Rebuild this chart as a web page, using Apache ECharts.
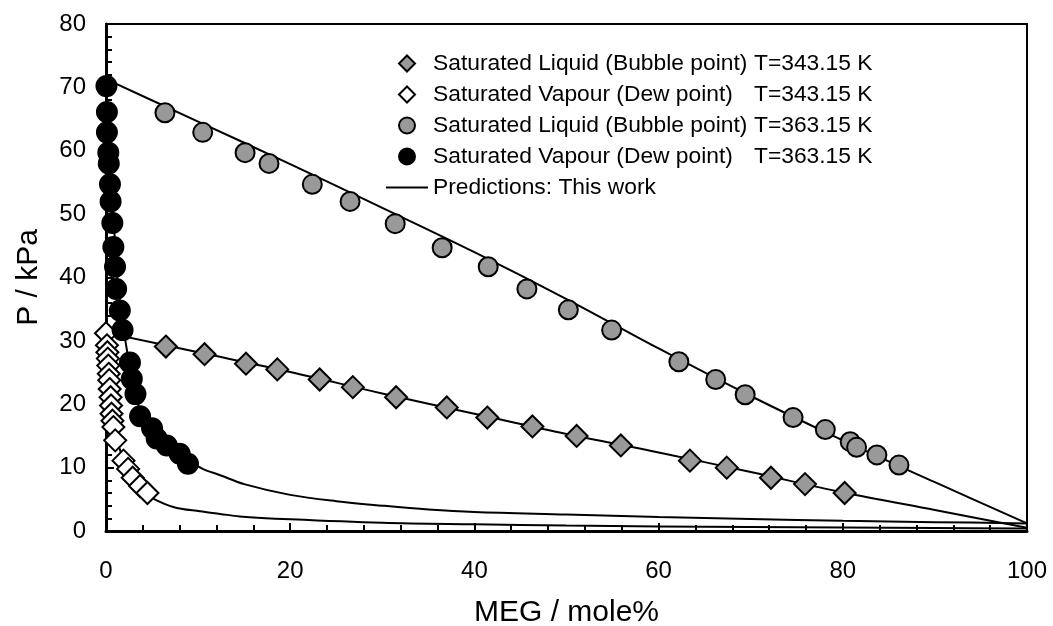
<!DOCTYPE html>
<html>
<head>
<meta charset="utf-8">
<script src="https://cdn.jsdelivr.net/npm/echarts@6/dist/echarts.min.js"></script>
<style>html,body{margin:0;padding:0;background:#fff}#c{width:1053px;height:626px}</style>
</head>
<body>
<div id="c"></div>
<script>
// ---- data ----
const nameLiq343 = 'Saturated Liquid (Bubble point) T=343.15 K';
const nameVap343 = 'Saturated Vapour (Dew point) T=343.15 K';
const nameLiq363 = 'Saturated Liquid (Bubble point) T=363.15 K';
const nameVap363 = 'Saturated Vapour (Dew point) T=363.15 K';
const namePred = 'Predictions: This work';

const liq343 = [[6.5,29.1],[10.7,27.9],[15.2,26.4],[18.6,25.5],[23.2,23.9],[26.8,22.7],[31.5,21.1],[37.0,19.5],[41.4,17.9],[46.3,16.5],[51.1,15.0],[55.9,13.5],[63.4,11.1],[67.4,10.0],[72.2,8.4],[75.9,7.4],[80.2,6.0]];
const vap343 = [[0.0,31.2],[0.1,29.3],[0.15,28.2],[0.2,27.2],[0.25,26.1],[0.3,24.8],[0.35,23.8],[0.4,22.4],[0.5,21.1],[0.55,19.8],[0.6,18.5],[0.7,17.4],[0.8,16.4],[1.0,14.3],[1.9,11.1],[2.4,9.8],[2.9,8.4],[3.7,7.1],[4.5,6.0]];
const liq363 = [[6.4,66.0],[10.5,62.9],[15.1,59.7],[17.7,58.0],[22.4,54.7],[26.5,52.0],[31.4,48.5],[36.5,44.7],[41.5,41.7],[45.7,38.2],[50.2,34.9],[54.9,31.7],[62.2,26.7],[66.2,23.9],[69.4,21.5],[74.6,17.9],[78.1,16.0],[80.8,14.1],[81.5,13.2],[83.7,12.0],[86.1,10.4]];
const vap363 = [[0.05,70.2],[0.1,66.1],[0.1,62.9],[0.25,59.7],[0.3,58.0],[0.43,54.7],[0.5,52.0],[0.69,48.6],[0.8,44.8],[0.98,41.7],[1.1,38.2],[1.5,34.8],[1.8,31.7],[2.6,26.6],[2.8,24.0],[3.2,21.6],[3.7,18.1],[5.0,16.2],[5.5,14.6],[6.6,13.5],[8.0,12.2],[8.9,10.6]];

const predBubble363 = [[0,71.3],[10,64.6],[20,57.9],[30,51.0],[40,44.0],[50,36.6],[60,28.8],[70,21.3],[80,14.3],[90,7.7],[100,1.2]];
const predBubble343 = [[0,31.3],[10,28.2],[20,25.1],[30,21.7],[40,18.5],[50,15.3],[60,12.4],[70,9.3],[80,6.1],[90,3.3],[100,0.5]];
const predDew363 = [[0,71.3],[0.2,66],[0.4,60],[0.6,55],[0.8,50],[1.0,45],[1.3,39],[1.6,35],[2.0,31],[2.4,27.5],[3.0,23],[3.7,19.0],[4.5,16.8],[5.5,15.0],[6.5,13.6],[8,12.0],[9.1,11.0],[10.5,9.8],[12.4,8.8],[15,7.4],[20,5.7],[25,4.7],[30,4.0],[35,3.4],[40,3.0],[50,2.6],[60,2.2],[70,1.9],[80,1.6],[90,1.4],[100,1.2]];
const predDew343 = [[0,31.3],[0.2,28],[0.4,25],[0.6,22],[0.8,19],[1.0,16.5],[1.3,14],[1.7,12],[2.2,10.4],[2.8,8.9],[3.5,7.2],[4.0,6.2],[5,5.2],[7.3,3.8],[10.2,3.1],[12.4,2.7],[14.5,2.3],[20,1.85],[30,1.3],[40,1.05],[50,0.85],[60,0.72],[70,0.62],[80,0.55],[90,0.48],[100,0.4]];

const xTicks = {min: 0, max: 100, interval: 20};
const yTicks = {min: 0, max: 80, interval: 10};

// ---- chart ----
const FONT = 'Liberation Sans, Arial, Helvetica, sans-serif';
const chart = echarts.init(document.getElementById('c'), null, {renderer: 'canvas'});

// legend icons: bounding box 42x16 kept by the leading/trailing moveTo points
const ICON_DIAMOND = 'path://M0,0M42,16M21,0L29,8L21,16L13,8Z';
const ICON_LINE = 'path://M0,0M42,16M0,7L42,7L42,9L0,9Z';

function lineSeries(data) {
  return {name: namePred, type: 'line', data: data, smooth: 0.35, symbol: 'none', showSymbol: false,
    lineStyle: {color: '#000', width: 2}, itemStyle: {color: '#000'}, z: 2, animation: false, silent: true};
}
function scatter(name, data, symbol, fill, size) {
  return {name: name, type: 'scatter', data: data, symbol: symbol, symbolSize: size,
    itemStyle: {color: fill, borderColor: '#000', borderWidth: 2, opacity: 1}, z: 3, animation: false};
}

chart.setOption({
  backgroundColor: '#fff',
  animation: false,
  grid: {left: 106, right: 26, top: 24, bottom: 95, show: true, borderColor: '#000', borderWidth: 2,
    backgroundColor: 'transparent', containLabel: false, outerBoundsMode: 'none'},
  xAxis: {
    type: 'value', min: xTicks.min, max: xTicks.max, interval: xTicks.interval,
    name: 'MEG / mole%', nameLocation: 'middle', nameGap: 67,
    nameTextStyle: {fontFamily: FONT, fontSize: 30, color: '#000'},
    axisLine: {show: true, onZero: false, lineStyle: {color: '#000', width: 3}},
    axisTick: {show: true, inside: true, length: 8, lineStyle: {color: '#000', width: 2}},
    minorTick: {show: true, splitNumber: 5, length: 6, lineStyle: {color: '#000', width: 2}},
    axisLabel: {fontFamily: FONT, fontSize: 24, color: '#000', margin: 28},
    splitLine: {show: false}
  },
  yAxis: {
    type: 'value', min: yTicks.min, max: yTicks.max, interval: yTicks.interval,
    name: 'P / kPa', nameLocation: 'middle', nameGap: 62,
    nameTextStyle: {fontFamily: FONT, fontSize: 30, color: '#000'},
    axisLine: {show: true, onZero: false, lineStyle: {color: '#000', width: 3}},
    axisTick: {show: true, inside: true, length: 8, lineStyle: {color: '#000', width: 2}},
    minorTick: {show: true, splitNumber: 5, length: 6, lineStyle: {color: '#000', width: 2}},
    axisLabel: {fontFamily: FONT, fontSize: 24, color: '#000', margin: 20},
    splitLine: {show: false}
  },
  legend: {
    orient: 'vertical', left: 380, top: 47, itemWidth: 42, itemHeight: 16, itemGap: 8,
    selectedMode: false,
    data: [
      {name: nameLiq343, icon: ICON_DIAMOND},
      {name: nameVap343, icon: ICON_DIAMOND},
      {name: nameLiq363, icon: 'circle'},
      {name: nameVap363, icon: 'circle'},
      {name: namePred, icon: ICON_LINE, itemStyle: {color: '#000', borderWidth: 0}}
    ],
    textStyle: {fontFamily: FONT, fontSize: 22.8, color: '#000',
      rich: {a: {fontFamily: FONT, fontSize: 22.8, color: '#000', width: 321},
             b: {fontFamily: FONT, fontSize: 22.8, color: '#000'}}},
    formatter: function (name) {
      const i = name.indexOf(' T=');
      if (i < 0) return name;
      return '{a|' + name.slice(0, i) + '}{b|' + name.slice(i + 1) + '}';
    }
  },
  series: [
    lineSeries(predBubble363),
    lineSeries(predBubble343),
    lineSeries(predDew363),
    lineSeries(predDew343),
    scatter(nameLiq343, liq343, 'diamond', '#999999', 22),
    scatter(nameVap343, vap343, 'diamond', '#ffffff', 22),
    scatter(nameLiq363, liq363, 'circle', '#999999', 19),
    scatter(nameVap363, vap363, 'circle', '#000000', 20)
  ]
});
</script>
</body>
</html>
